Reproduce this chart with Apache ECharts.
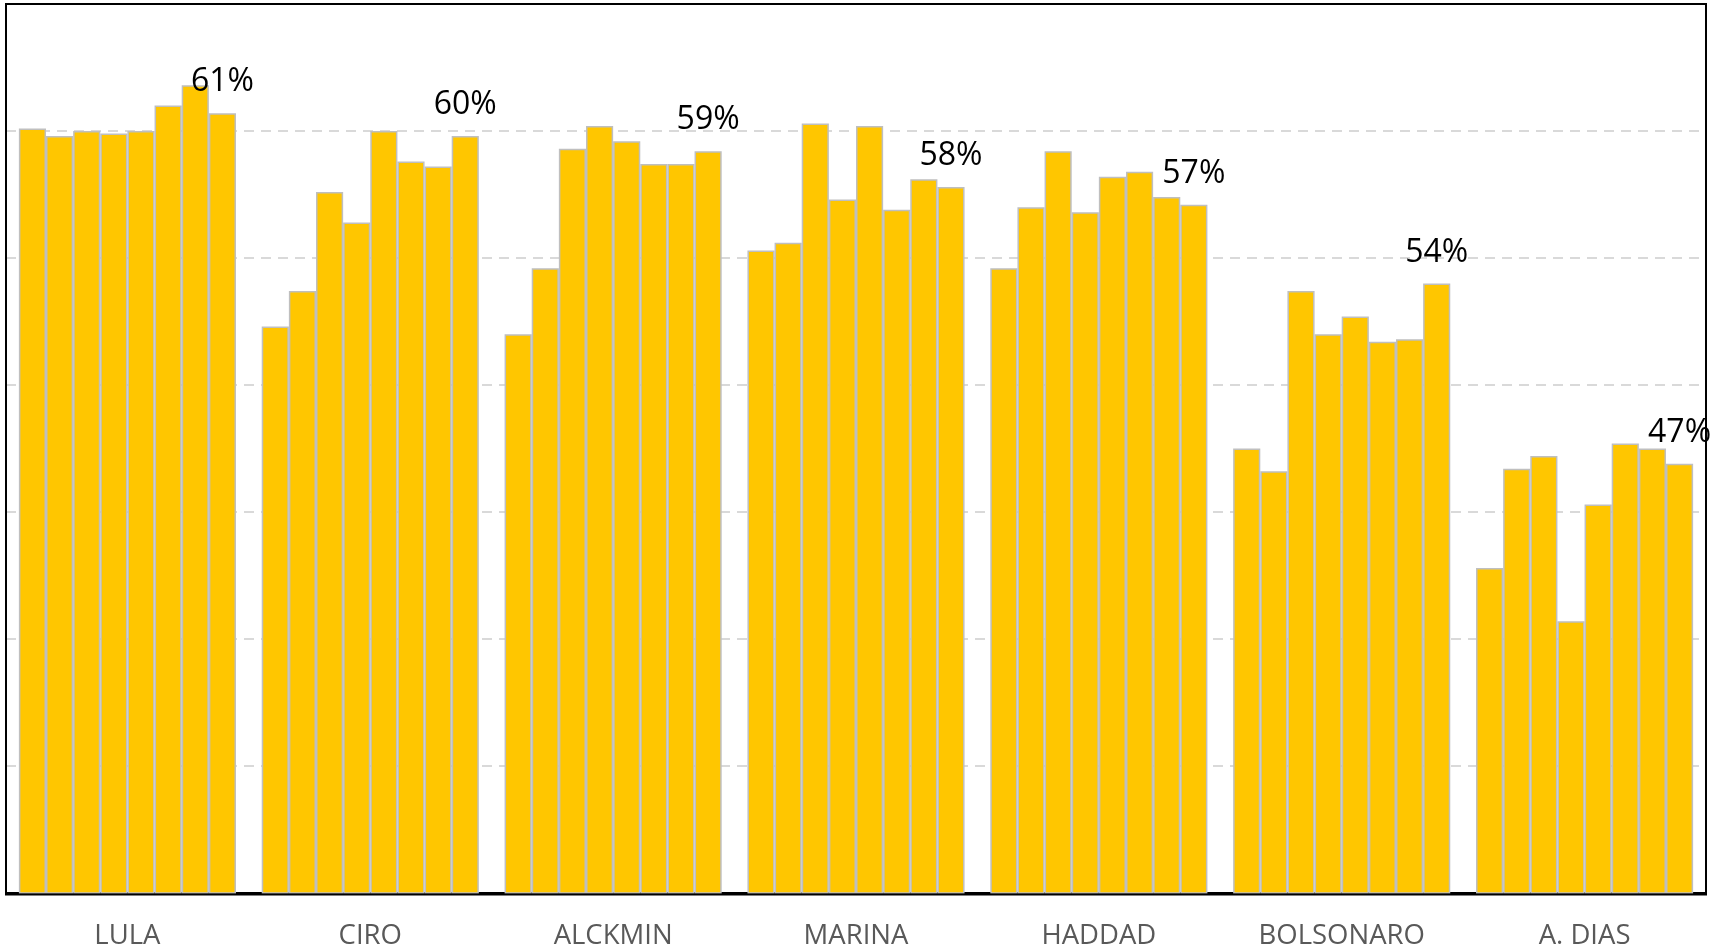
<!DOCTYPE html>
<html>
<head>
<meta charset="utf-8">
<title>Candidatos</title>
<script src="https://cdn.jsdelivr.net/npm/echarts@6/dist/echarts.min.js"></script>
<style>
  html, body { margin: 0; padding: 0; background: #fff; }
  #chart { width: 1725px; height: 950px; }
</style>
</head>
<body>
<div id="chart"></div>
<script>
// candidatos (eixo x)
var candidates = ["LULA", "CIRO", "ALCKMIN", "MARINA", "HADDAD", "BOLSONARO", "A. DIAS"];

// 8 pesquisas por candidato, em %
var lula      = [60.1, 59.8, 60.0, 59.9, 60.0, 61.0, 61.8, 60.7];
var ciro      = [52.3, 53.7, 57.6, 56.4, 60.0, 58.8, 58.6, 59.8];
var alckmin   = [52.0, 54.6, 59.3, 60.2, 59.6, 58.7, 58.7, 59.2];
var marina    = [55.3, 55.6, 60.3, 57.3, 60.2, 56.9, 58.1, 57.8];
var haddad    = [54.6, 57.0, 59.2, 56.8, 58.2, 58.4, 57.4, 57.1];
var bolsonaro = [47.5, 46.6, 53.7, 52.0, 52.7, 51.7, 51.8, 54.0];
var aDias     = [42.8, 46.7, 47.2, 40.7, 45.3, 47.7, 47.5, 46.9];

var byCandidate = [lula, ciro, alckmin, marina, haddad, bolsonaro, aDias];

// eixo y
var yMin = 30, yMax = 65, yStep = 5;

var gridLeft = 6, gridRight = 19, gridTop = 4, gridBottom = 55.5;

var myChart = echarts.init(document.getElementById("chart"));

var series = [];
for (var i = 0; i < lula.length; i++) {
  var isLast = i == lula.length - 1;
  series.push({
    name: "P" + (i + 1),
    type: "bar",
    barGap: "0%",
    barCategoryGap: "10.6%",
    data: byCandidate.map(function (arr) { return arr[i]; }),
    itemStyle: {
      color: "#FFC600",
      borderColor: "#BFBFBF",
      borderWidth: 1.5
    },
    label: {
      show: isLast,
      position: "top",
      distance: 15,
      fontFamily: "Open Sans",
      fontSize: 32,
      color: "#000",
      formatter: function (p) { return Math.round(p.value) + "%"; }
    },
    silent: true
  });
}

var option = {
  animation: false,
  backgroundColor: "#fff",
  grid: {
    left: gridLeft,
    right: gridRight,
    top: gridTop,
    bottom: gridBottom,
    containLabel: false
  },
  // moldura preta por cima das linhas de grade
  graphic: [{
    type: "rect",
    z: 100,
    silent: true,
    shape: { x: gridLeft, y: gridTop, width: 1725 - gridLeft - gridRight, height: 950 - gridTop - gridBottom },
    style: { fill: "none", stroke: "#000", lineWidth: 2 }
  }],
  xAxis: {
    type: "category",
    data: candidates,
    axisLine: { show: true, lineStyle: { color: "#000", width: 2 } },
    axisTick: { show: false },
    axisLabel: {
      margin: 29,
      fontFamily: "Open Sans",
      fontSize: 27.5,
      color: "#595959"
    }
  },
  yAxis: {
    type: "value",
    min: yMin,
    max: yMax,
    interval: yStep,
    axisLine: { show: false },
    axisTick: { show: false },
    axisLabel: { show: false },
    splitLine: {
      lineStyle: { color: "#D9D9D9", width: 2, type: [10, 7] }
    }
  },
  series: series
};

myChart.setOption(option, true);
</script>
</body>
</html>
